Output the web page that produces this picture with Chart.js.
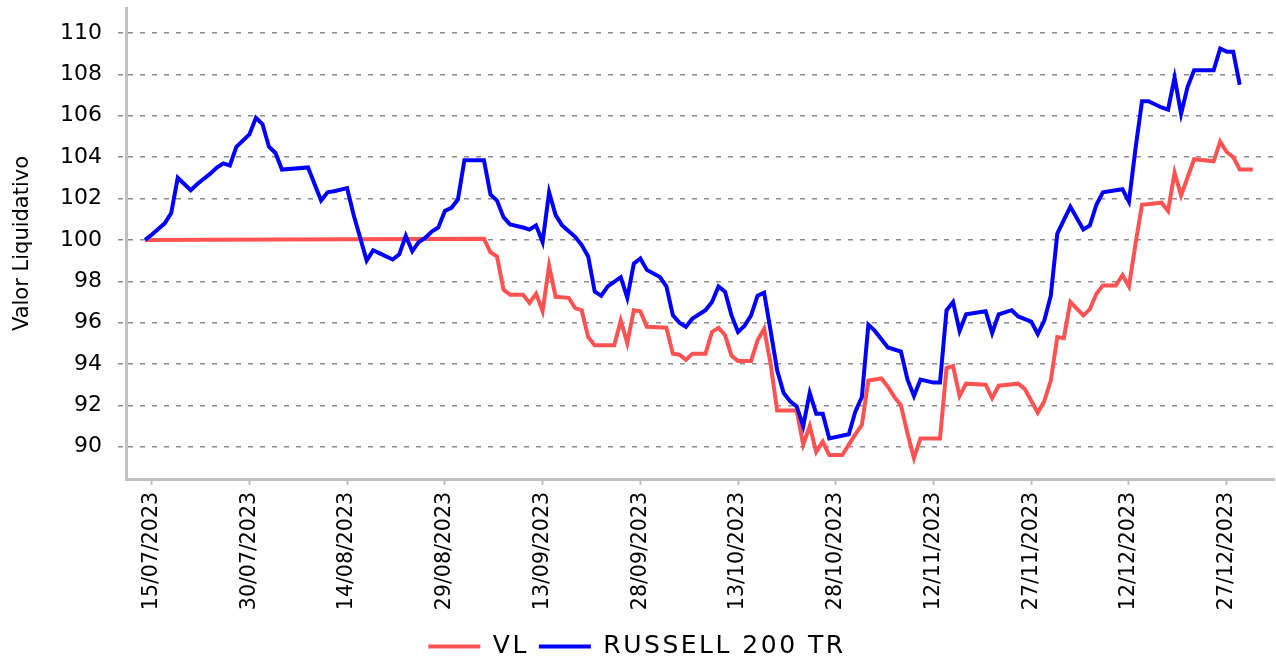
<!DOCTYPE html>
<html>
<head>
<meta charset="utf-8">
<script src="https://cdn.jsdelivr.net/npm/chart.js@4.4.1/dist/chart.umd.min.js"></script>
<style>
  html, body { margin: 0; padding: 0; background: #ffffff; }
  #wrap { width: 1276px; height: 660px; }
</style>
</head>
<body>
<div id="wrap"><canvas id="c" width="1276" height="660"></canvas></div>
<script>
// ---------- data ----------
const seriesNames = ['VL', 'RUSSELL 200 TR'];

const xTickLabels = ['15/07/2023','30/07/2023','14/08/2023','29/08/2023','13/09/2023','28/09/2023',
  '13/10/2023','28/10/2023','12/11/2023','27/11/2023','12/12/2023','27/12/2023'];

const yTickValues = [90, 92, 94, 96, 98, 100, 102, 104, 106, 108, 110];

const vlDates = ['14/07/2023','04/09/2023','05/09/2023','06/09/2023','07/09/2023','08/09/2023','10/09/2023',
  '11/09/2023','12/09/2023','13/09/2023','14/09/2023','15/09/2023','17/09/2023','18/09/2023','19/09/2023',
  '20/09/2023','21/09/2023','24/09/2023','25/09/2023','26/09/2023','27/09/2023','28/09/2023','29/09/2023',
  '02/10/2023','03/10/2023','04/10/2023','05/10/2023','06/10/2023','08/10/2023','09/10/2023','10/10/2023',
  '11/10/2023','12/10/2023','13/10/2023','15/10/2023','16/10/2023','17/10/2023','18/10/2023','19/10/2023',
  '22/10/2023','23/10/2023','24/10/2023','25/10/2023','26/10/2023','27/10/2023','29/10/2023','30/10/2023',
  '31/10/2023','01/11/2023','02/11/2023','04/11/2023','05/11/2023','06/11/2023','07/11/2023','08/11/2023',
  '09/11/2023','10/11/2023','13/11/2023','14/11/2023','15/11/2023','16/11/2023','17/11/2023','20/11/2023',
  '21/11/2023','22/11/2023','25/11/2023','26/11/2023','28/11/2023','29/11/2023','30/11/2023','01/12/2023',
  '02/12/2023','03/12/2023','05/12/2023','06/12/2023','07/12/2023','08/12/2023','10/12/2023','11/12/2023',
  '12/12/2023','13/12/2023','14/12/2023','17/12/2023','18/12/2023','19/12/2023','20/12/2023','22/12/2023',
  '25/12/2023','26/12/2023','27/12/2023','28/12/2023','29/12/2023','31/12/2023'];
const vlValues = [100.0, 100.05, 99.4, 99.2, 97.6, 97.35, 97.35,
  96.95, 97.4, 96.55, 98.75, 97.25, 97.2, 96.7, 96.6,
  95.3, 94.9, 94.9, 96.1, 95.0, 96.6, 96.55, 95.8,
  95.75, 94.5, 94.45, 94.2, 94.5, 94.5, 95.55, 95.75,
  95.4, 94.4, 94.15, 94.15, 95.15, 95.7, 94.0, 91.75,
  91.75, 90.1, 91.0, 89.75, 90.25, 89.6, 89.6, 90.1,
  90.6, 91.05, 93.2, 93.3, 92.9, 92.4, 92.0, 90.65,
  89.45, 90.4, 90.4, 93.8, 93.9, 92.45, 93.05, 93.0,
  92.35, 92.95, 93.05, 92.8, 91.65, 92.2, 93.2, 95.3,
  95.25, 97.0, 96.35, 96.65, 97.4, 97.8, 97.8, 98.3,
  97.75, 99.8, 101.7, 101.8, 101.4, 103.25, 102.15, 103.9,
  103.8, 104.75, 104.25, 104.0, 103.4, 103.4];

const rusDates = ['14/07/2023','15/07/2023','17/07/2023','18/07/2023','19/07/2023','20/07/2023','21/07/2023',
  '22/07/2023','24/07/2023','25/07/2023','26/07/2023','27/07/2023','28/07/2023','30/07/2023','31/07/2023',
  '01/08/2023','02/08/2023','03/08/2023','04/08/2023','08/08/2023','09/08/2023','10/08/2023','11/08/2023',
  '12/08/2023','14/08/2023','15/08/2023','16/08/2023','17/08/2023','18/08/2023','19/08/2023','21/08/2023',
  '22/08/2023','23/08/2023','24/08/2023','25/08/2023','26/08/2023','27/08/2023','28/08/2023','29/08/2023',
  '30/08/2023','31/08/2023','01/09/2023','04/09/2023','05/09/2023','06/09/2023','07/09/2023','08/09/2023',
  '10/09/2023','11/09/2023','12/09/2023','13/09/2023','14/09/2023','15/09/2023','16/09/2023','18/09/2023',
  '19/09/2023','20/09/2023','21/09/2023','22/09/2023','23/09/2023','25/09/2023','26/09/2023','27/09/2023',
  '28/09/2023','29/09/2023','01/10/2023','02/10/2023','03/10/2023','04/10/2023','05/10/2023','06/10/2023',
  '08/10/2023','09/10/2023','10/10/2023','11/10/2023','12/10/2023','13/10/2023','14/10/2023','15/10/2023',
  '16/10/2023','17/10/2023','18/10/2023','19/10/2023','20/10/2023','21/10/2023','22/10/2023','23/10/2023',
  '24/10/2023','25/10/2023','26/10/2023','27/10/2023','30/10/2023','31/10/2023','01/11/2023','02/11/2023',
  '03/11/2023','05/11/2023','07/11/2023','08/11/2023','09/11/2023','10/11/2023','12/11/2023','13/11/2023',
  '14/11/2023','15/11/2023','16/11/2023','17/11/2023','20/11/2023','21/11/2023','22/11/2023','24/11/2023',
  '25/11/2023','27/11/2023','28/11/2023','29/11/2023','30/11/2023','01/12/2023','02/12/2023','03/12/2023',
  '05/12/2023','06/12/2023','07/12/2023','08/12/2023','11/12/2023','12/12/2023','13/12/2023','14/12/2023',
  '15/12/2023','17/12/2023','18/12/2023','19/12/2023','20/12/2023','21/12/2023','22/12/2023','25/12/2023',
  '26/12/2023','27/12/2023','28/12/2023','29/12/2023'];
const rusValues = [100.0, 100.25, 100.8, 101.3, 103.0, 102.7, 102.4,
  102.7, 103.2, 103.5, 103.7, 103.6, 104.5, 105.1, 105.9,
  105.6, 104.5, 104.2, 103.4, 103.5, 102.7, 101.9, 102.3,
  102.35, 102.5, 101.2, 100.1, 99.0, 99.5, 99.35, 99.05,
  99.3, 100.2, 99.45, 99.9, 100.1, 100.4, 100.6, 101.4,
  101.55, 101.95, 103.85, 103.85, 102.2, 101.9, 101.1, 100.75,
  100.6, 100.5, 100.7, 99.9, 102.3, 101.2, 100.7, 100.15,
  99.75, 99.2, 97.5, 97.3, 97.75, 98.2, 97.2, 98.85,
  99.1, 98.55, 98.2, 97.75, 96.35, 96.0, 95.8, 96.2,
  96.6, 97.0, 97.75, 97.5, 96.35, 95.55, 95.85, 96.35,
  97.3, 97.45, 95.6, 93.7, 92.6, 92.2, 91.95, 91.0,
  92.6, 91.6, 91.6, 90.4, 90.6, 91.7, 92.4, 95.9,
  95.6, 94.8, 94.6, 93.25, 92.45, 93.25, 93.1, 93.1,
  96.6, 97.0, 95.6, 96.4, 96.55, 95.5, 96.4, 96.6,
  96.3, 96.05, 95.45, 96.1, 97.3, 100.3, 100.95, 101.6,
  100.5, 100.7, 101.7, 102.3, 102.45, 101.85, 104.4, 106.7,
  106.7, 106.4, 106.3, 107.85, 106.1, 107.4, 108.2, 108.2,
  109.25, 109.1, 109.1, 107.5];

// ---------- helpers ----------
function dayOffset(s) {
  const [d, m, y] = s.split('/').map(Number);
  return (Date.UTC(y, m - 1, d) - Date.UTC(2023, 6, 15)) / 86400000;
}
const xTickPos = xTickLabels.map(dayOffset);
const toPoints = (dates, vals) => dates.map((d, i) => ({ x: dayOffset(d), y: vals[i] }));

const FONT = '"DejaVu Sans", Verdana, sans-serif';

// letter spacing for legend text only
const legendSpacing = {
  id: 'legendSpacing',
  beforeLayout(chart) {
    const lg = chart.legend;
    if (!lg || lg._lsPatched) return;
    lg._lsPatched = true;
    const wrap = fn => function (...a) {
      const c = this.ctx;
      const prev = c.letterSpacing;
      c.letterSpacing = '2.5px';
      const r = fn.apply(this, a);
      c.letterSpacing = prev || '0px';
      return r;
    };
    lg.fit = wrap(lg.fit);
    lg.draw = wrap(lg.draw);
  }
};

new Chart(document.getElementById('c'), {
  type: 'line',
  data: {
    datasets: [
      {
        label: seriesNames[0],
        data: toPoints(vlDates, vlValues),
        borderColor: '#ff5252',
        backgroundColor: '#ff5252',
        borderWidth: 4,
        pointRadius: 0,
        tension: 0,
        fill: false,
        order: 1
      },
      {
        label: seriesNames[1],
        data: toPoints(rusDates, rusValues),
        borderColor: '#0000ff',
        backgroundColor: '#0000ff',
        borderWidth: 4,
        pointRadius: 0,
        tension: 0,
        fill: false,
        order: 0
      }
    ]
  },
  options: {
    responsive: false,
    animation: false,
    devicePixelRatio: 1,
    layout: { padding: { top: 8, right: 2, left: 0, bottom: 0 } },
    plugins: {
      tooltip: { enabled: false },
      legend: {
        position: 'bottom',
        maxHeight: 36,
        labels: {
          usePointStyle: true,
          pointStyle: 'line',
          pointStyleWidth: 52,
          padding: 10,
          color: '#000000',
          font: { family: FONT, size: 25 },
          sort: (a, b) => a.datasetIndex - b.datasetIndex
        }
      }
    },
    scales: {
      x: {
        type: 'linear',
        min: -3.94,
        max: 172.26,
        afterBuildTicks: s => { s.ticks = xTickPos.map(v => ({ value: v })); },
        afterFit: s => { s.height = 145; s.paddingLeft = 0; s.paddingRight = 0; },
        grid: {
          display: true,
          drawOnChartArea: false,
          drawTicks: true,
          tickLength: 6,
          tickColor: '#c0c0c0',
          tickWidth: 2
        },
        border: { display: true, color: '#c0c0c0', width: 3 },
        ticks: {
          autoSkip: false,
          minRotation: 90,
          maxRotation: 90,
          padding: 7,
          color: '#000000',
          font: { family: FONT, size: 20.5 },
          callback: v => {
            const i = xTickPos.indexOf(v);
            return i >= 0 ? xTickLabels[i] : '';
          }
        }
      },
      y: {
        type: 'linear',
        min: 88.44,
        max: 111.21,
        afterBuildTicks: s => { s.ticks = yTickValues.map(v => ({ value: v })); },
        afterFit: s => { s.width = 126; s.paddingTop = 0; s.paddingBottom = 0; },
        grid: {
          display: true,
          drawOnChartArea: true,
          drawTicks: true,
          tickLength: 8,
          color: '#8c8c8c',
          lineWidth: 1.5,
          tickColor: '#8c8c8c',
          tickWidth: 1.5,
          tickBorderDash: [5, 7]
        },
        border: { display: true, color: '#c0c0c0', width: 3, dash: [5, 7] },
        ticks: {
          padding: 16,
          color: '#000000',
          font: { family: FONT, size: 22 },
          callback: v => String(v)
        },
        title: {
          display: true,
          text: 'Valor Liquidativo',
          color: '#000000',
          font: { family: FONT, size: 21 },
          padding: { top: 10, bottom: 0 }
        }
      }
    }
  },
  plugins: [legendSpacing]
});
</script>
</body>
</html>
